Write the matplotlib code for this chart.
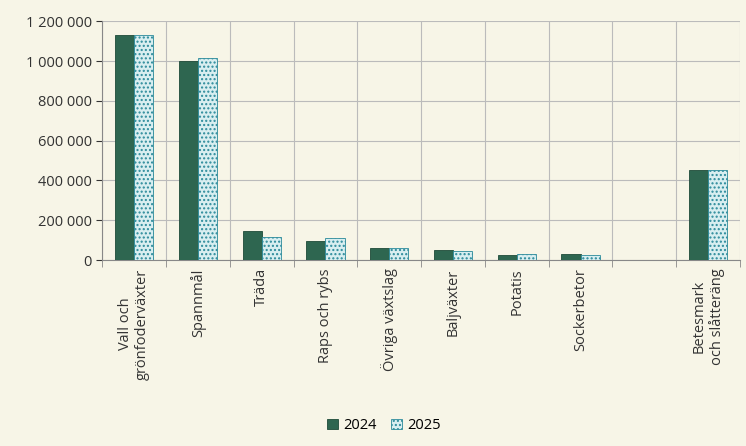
import matplotlib
matplotlib.use("Agg")
import matplotlib.pyplot as plt
import numpy as np
from matplotlib.ticker import FuncFormatter, MultipleLocator

categories = ["Vall och\ngrönfoderväxter", "Spannmål", "Träda", "Raps och rybs",
              "Övriga växtslag", "Baljväxter", "Potatis", "Sockerbetor", "",
              "Betesmark\noch slåtteräng"]
v2024 = [1130000, 1000000, 145000, 97000, 62000, 50000, 25000, 30000, 0, 455000]
v2025 = [1130000, 1015000, 115000, 112000, 62000, 45000, 28000, 25000, 0, 455000]

bg = "#f7f5e7"
plt.rcParams["font.family"] = "Open Sans"
fig = plt.figure(figsize=(7.46, 4.46), dpi=100, facecolor=bg)
ax = fig.add_axes([0.137, 0.417, 0.855, 0.535], facecolor=bg)
x = np.arange(len(categories))
w = 0.3
ax.bar(x - w/2, v2024, w, color="#2e6650", edgecolor="#1e4a38", linewidth=0.6, label="2024", zorder=3)
plt.rcParams["hatch.linewidth"] = 1.0
ax.bar(x + w/2, v2025, w, color="#d8eef0", edgecolor="#2b8a9a", hatch="....", linewidth=0.6, label="2025", zorder=3)
ax.set_xlim(-0.5, len(categories) - 0.5)
ax.set_ylim(0, 1200000)
ax.yaxis.set_major_locator(MultipleLocator(200000))
ax.yaxis.set_major_formatter(FuncFormatter(lambda v, p: f"{int(v):,}".replace(",", " ")))
ax.set_xticks(x)
ax.set_xticklabels(categories, rotation=90, fontsize=10.5, color="#333333")
ax.tick_params(axis="y", labelsize=10.5, colors="#333333", length=4)
ax.tick_params(axis="x", length=0, pad=6)
ax.set_xticks(np.arange(-0.5, len(categories)), minor=True)
ax.tick_params(axis="x", which="minor", length=5, color="#888888")
ax.grid(axis="y", color="#bbbbbb", linewidth=0.8, zorder=0)
ax.grid(axis="x", which="minor", color="#bbbbbb", linewidth=0.8, zorder=0)
for s in ["top", "right"]:
    ax.spines[s].set_visible(False)
ax.spines["left"].set_color("#888888")
ax.spines["bottom"].set_color("#888888")
fig.legend(loc="lower center", bbox_to_anchor=(0.515, 0.0), ncol=2, frameon=False,
           fontsize=10.5, handlelength=0.7, handleheight=0.7, columnspacing=1.0, handletextpad=0.4)
fig.savefig("out.png", dpi=100, facecolor=bg)
